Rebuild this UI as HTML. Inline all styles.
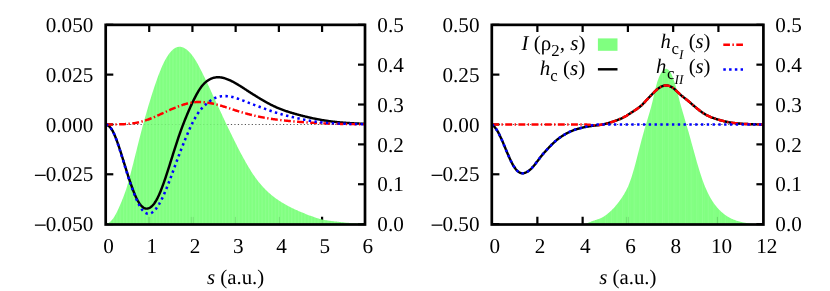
<!DOCTYPE html>
<html><head><meta charset="utf-8"><title>plot</title>
<style>html,body{margin:0;padding:0;background:#fff}svg{display:block;will-change:transform}text{text-rendering:geometricPrecision}</style>
</head><body>
<svg width="830" height="291" viewBox="0 0 830 291">
<rect width="830" height="291" fill="#fff"/>
<defs><pattern id="st" width="3.3" height="10" patternUnits="userSpaceOnUse"><rect width="3.3" height="10" fill="#81ff81"/><rect x="1" width="0.9" height="10" fill="#92ff92"/></pattern><pattern id="st2" width="5.7" height="10" patternUnits="userSpaceOnUse"><rect width="5.7" height="10" fill="#81ff81"/><rect x="1" width="0.8" height="10" fill="#8eff8e"/><rect x="3.3" width="0.5" height="10" fill="#88ff88"/></pattern></defs>
<g id="p1">
<path d="M149.22 224.1 v-7.3 M149.22 24.8 v7.3" stroke="#000" stroke-width="2.2"/>
<path d="M192.43 224.1 v-7.3 M192.43 24.8 v7.3" stroke="#000" stroke-width="2.2"/>
<path d="M235.65 224.1 v-7.3 M235.65 24.8 v7.3" stroke="#000" stroke-width="2.2"/>
<path d="M278.87 224.1 v-7.3 M278.87 24.8 v7.3" stroke="#000" stroke-width="2.2"/>
<path d="M322.08 224.1 v-7.3 M322.08 24.8 v7.3" stroke="#000" stroke-width="2.2"/>
<path d="M106 224.1 h7.3" stroke="#000" stroke-width="2.2"/>
<path d="M106 174.28 h7.3" stroke="#000" stroke-width="2.2"/>
<path d="M106 124.45 h7.3" stroke="#000" stroke-width="2.2"/>
<path d="M106 74.62 h7.3" stroke="#000" stroke-width="2.2"/>
<path d="M106 24.8 h7.3" stroke="#000" stroke-width="2.2"/>
<path d="M365.3 224.1 h-7.3" stroke="#000" stroke-width="2.2"/>
<path d="M365.3 184.24 h-7.3" stroke="#000" stroke-width="2.2"/>
<path d="M365.3 144.38 h-7.3" stroke="#000" stroke-width="2.2"/>
<path d="M365.3 104.52 h-7.3" stroke="#000" stroke-width="2.2"/>
<path d="M365.3 64.66 h-7.3" stroke="#000" stroke-width="2.2"/>
<path d="M365.3 24.8 h-7.3" stroke="#000" stroke-width="2.2"/>
<path d="M105.8 124.5 H365.3" stroke="#222" stroke-opacity="0.78" stroke-width="1" stroke-dasharray="1.2 2.275"/>
<path d="M106 224.1 L106.65 223.92 L107.3 223.61 L107.95 223.28 L108.6 222.89 L109.25 222.45 L109.9 221.95 L110.55 221.38 L111.2 220.74 L111.85 220.03 L112.5 219.25 L113.15 218.39 L113.8 217.45 L114.45 216.44 L115.1 215.35 L115.75 214.19 L116.4 212.96 L117.05 211.67 L117.7 210.32 L118.35 208.92 L119 207.48 L119.65 206 L120.3 204.5 L120.95 202.97 L121.6 201.42 L122.25 199.82 L122.9 198.2 L123.55 196.53 L124.2 194.81 L124.85 193.02 L125.5 191.14 L126.15 189.18 L126.8 187.13 L127.45 185 L128.1 182.79 L128.75 180.51 L129.4 178.17 L130.05 175.77 L130.7 173.33 L131.35 170.84 L131.99 168.32 L132.64 165.78 L133.29 163.21 L133.94 160.62 L134.59 158.03 L135.24 155.42 L135.89 152.81 L136.54 150.19 L137.19 147.58 L137.84 144.98 L138.49 142.38 L139.14 139.8 L139.79 137.24 L140.44 134.7 L141.09 132.18 L141.74 129.69 L142.39 127.24 L143.04 124.81 L143.69 122.42 L144.34 120.05 L144.99 117.72 L145.64 115.41 L146.29 113.13 L146.94 110.88 L147.59 108.66 L148.24 106.46 L148.89 104.29 L149.54 102.14 L150.19 100.02 L150.84 97.92 L151.49 95.85 L152.14 93.79 L152.79 91.76 L153.44 89.76 L154.09 87.78 L154.74 85.84 L155.39 83.92 L156.04 82.03 L156.69 80.18 L157.34 78.37 L157.99 76.59 L158.64 74.86 L159.29 73.16 L159.94 71.51 L160.59 69.9 L161.24 68.34 L161.89 66.83 L162.54 65.37 L163.19 63.96 L163.84 62.6 L164.49 61.31 L165.14 60.06 L165.79 58.88 L166.44 57.76 L167.09 56.7 L167.74 55.69 L168.39 54.74 L169.04 53.84 L169.69 53 L170.34 52.22 L170.99 51.49 L171.64 50.81 L172.29 50.18 L172.94 49.61 L173.59 49.09 L174.24 48.62 L174.89 48.2 L175.54 47.84 L176.19 47.53 L176.84 47.27 L177.49 47.07 L178.14 46.92 L178.79 46.82 L179.44 46.78 L180.09 46.79 L180.74 46.86 L181.39 46.97 L182.04 47.14 L182.69 47.35 L183.34 47.61 L183.98 47.92 L184.63 48.28 L185.28 48.67 L185.93 49.11 L186.58 49.59 L187.23 50.11 L187.88 50.67 L188.53 51.27 L189.18 51.91 L189.83 52.59 L190.48 53.31 L191.13 54.07 L191.78 54.86 L192.43 55.7 L193.08 56.58 L193.73 57.5 L194.38 58.46 L195.03 59.46 L195.68 60.5 L196.33 61.58 L196.98 62.69 L197.63 63.84 L198.28 65.02 L198.93 66.23 L199.58 67.45 L200.23 68.7 L200.88 69.96 L201.53 71.24 L202.18 72.53 L202.83 73.84 L203.48 75.16 L204.13 76.49 L204.78 77.83 L205.43 79.18 L206.08 80.54 L206.73 81.91 L207.38 83.29 L208.03 84.67 L208.68 86.06 L209.33 87.46 L209.98 88.86 L210.63 90.26 L211.28 91.67 L211.93 93.08 L212.58 94.48 L213.23 95.89 L213.88 97.3 L214.53 98.71 L215.18 100.11 L215.83 101.52 L216.48 102.93 L217.13 104.33 L217.78 105.73 L218.43 107.13 L219.08 108.53 L219.73 109.93 L220.38 111.33 L221.03 112.72 L221.68 114.11 L222.33 115.5 L222.98 116.89 L223.63 118.27 L224.28 119.66 L224.93 121.03 L225.58 122.41 L226.23 123.78 L226.88 125.15 L227.53 126.52 L228.18 127.88 L228.83 129.24 L229.48 130.59 L230.13 131.94 L230.78 133.28 L231.43 134.62 L232.08 135.96 L232.73 137.28 L233.38 138.61 L234.03 139.92 L234.68 141.23 L235.33 142.53 L235.97 143.83 L236.62 145.12 L237.27 146.4 L237.92 147.67 L238.57 148.93 L239.22 150.18 L239.87 151.43 L240.52 152.67 L241.17 153.89 L241.82 155.11 L242.47 156.32 L243.12 157.51 L243.77 158.7 L244.42 159.87 L245.07 161.04 L245.72 162.19 L246.37 163.32 L247.02 164.45 L247.67 165.56 L248.32 166.66 L248.97 167.75 L249.62 168.81 L250.27 169.87 L250.92 170.91 L251.57 171.93 L252.22 172.93 L252.87 173.92 L253.52 174.89 L254.17 175.84 L254.82 176.78 L255.47 177.69 L256.12 178.59 L256.77 179.46 L257.42 180.32 L258.07 181.16 L258.72 181.98 L259.37 182.78 L260.02 183.57 L260.67 184.34 L261.32 185.09 L261.97 185.83 L262.62 186.55 L263.27 187.25 L263.92 187.94 L264.57 188.62 L265.22 189.28 L265.87 189.93 L266.52 190.56 L267.17 191.18 L267.82 191.79 L268.47 192.38 L269.12 192.97 L269.77 193.54 L270.42 194.1 L271.07 194.65 L271.72 195.19 L272.37 195.72 L273.02 196.24 L273.67 196.74 L274.32 197.24 L274.97 197.73 L275.62 198.21 L276.27 198.69 L276.92 199.15 L277.57 199.6 L278.22 200.05 L278.87 200.49 L279.52 200.92 L280.17 201.34 L280.82 201.76 L281.47 202.16 L282.12 202.57 L282.77 202.96 L283.42 203.35 L284.07 203.73 L284.72 204.1 L285.37 204.47 L286.02 204.84 L286.67 205.2 L287.32 205.55 L287.96 205.9 L288.61 206.24 L289.26 206.58 L289.91 206.91 L290.56 207.24 L291.21 207.57 L291.86 207.89 L292.51 208.21 L293.16 208.52 L293.81 208.83 L294.46 209.14 L295.11 209.44 L295.76 209.74 L296.41 210.04 L297.06 210.33 L297.71 210.62 L298.36 210.91 L299.01 211.2 L299.66 211.48 L300.31 211.75 L300.96 212.03 L301.61 212.3 L302.26 212.57 L302.91 212.84 L303.56 213.1 L304.21 213.36 L304.86 213.62 L305.51 213.88 L306.16 214.14 L306.81 214.39 L307.46 214.64 L308.11 214.89 L308.76 215.14 L309.41 215.38 L310.06 215.63 L310.71 215.87 L311.36 216.11 L312.01 216.35 L312.66 216.58 L313.31 216.82 L313.96 217.05 L314.61 217.27 L315.26 217.49 L315.91 217.71 L316.56 217.92 L317.21 218.13 L317.86 218.33 L318.51 218.52 L319.16 218.71 L319.81 218.89 L320.46 219.07 L321.11 219.23 L321.76 219.39 L322.41 219.54 L323.06 219.68 L323.71 219.81 L324.36 219.93 L325.01 220.05 L325.66 220.16 L326.31 220.27 L326.96 220.37 L327.61 220.46 L328.26 220.55 L328.91 220.64 L329.56 220.73 L330.21 220.81 L330.86 220.89 L331.51 220.97 L332.16 221.06 L332.81 221.14 L333.46 221.22 L334.11 221.3 L334.76 221.38 L335.41 221.46 L336.06 221.54 L336.71 221.61 L337.36 221.69 L338.01 221.77 L338.66 221.85 L339.31 221.92 L339.95 222 L340.6 222.07 L341.25 222.15 L341.9 222.22 L342.55 222.29 L343.2 222.36 L343.85 222.43 L344.5 222.5 L345.15 222.57 L345.8 222.63 L346.45 222.69 L347.1 222.76 L347.75 222.82 L348.4 222.87 L349.05 222.93 L349.7 222.98 L350.35 223.04 L351 223.09 L351.65 223.13 L352.3 223.18 L352.95 223.22 L353.6 223.26 L354.25 223.3 L354.9 223.34 L355.55 223.37 L356.2 223.4 L356.85 223.43 L357.5 223.46 L358.15 223.49 L358.8 223.51 L359.45 223.54 L360.1 223.56 L360.75 223.58 L361.4 223.6 L362.05 223.62 L362.7 223.63 L363.35 223.65 L364 223.67 L364.65 223.68 L365.3 223.7 L365.3 224.1 L106 224.1 Z" fill="url(#st)"/>
<path d="M144.03 124.5 H226.23" stroke="#030" stroke-opacity="0.13" stroke-width="1" stroke-dasharray="1.2 2.275"/>
<path d="M149.2 216.9 V224.1" stroke="#020" stroke-opacity="0.12" stroke-width="2.0"/>
<path d="M191.3 216.9 V224.1" stroke="#020" stroke-opacity="0.2" stroke-width="0.6"/>
<path d="M193.3 216.9 V224.1" stroke="#020" stroke-opacity="0.2" stroke-width="0.6"/>
<path d="M235.4 216.9 V224.1" stroke="#020" stroke-opacity="0.2" stroke-width="0.7"/>
<path d="M279.4 216.9 V224.1" stroke="#020" stroke-opacity="0.2" stroke-width="0.7"/>
<path d="M322.1 216.9 V224.1" stroke="#020" stroke-opacity="0.2" stroke-width="0.7"/>
<path d="M106 124.28 L106.65 124.63 L107.3 125.01 L107.95 125.42 L108.6 125.89 L109.25 126.43 L109.9 127.06 L110.55 127.79 L111.2 128.64 L111.85 129.61 L112.5 130.7 L113.15 131.92 L113.8 133.26 L114.45 134.7 L115.1 136.24 L115.75 137.86 L116.4 139.54 L117.05 141.3 L117.7 143.11 L118.35 144.98 L119 146.89 L119.65 148.85 L120.3 150.85 L120.95 152.87 L121.6 154.93 L122.25 157 L122.9 159.09 L123.55 161.19 L124.2 163.3 L124.85 165.4 L125.5 167.5 L126.15 169.59 L126.8 171.67 L127.45 173.73 L128.1 175.76 L128.75 177.77 L129.4 179.75 L130.05 181.69 L130.7 183.6 L131.35 185.46 L131.99 187.27 L132.64 189.03 L133.29 190.74 L133.94 192.39 L134.59 193.97 L135.24 195.49 L135.89 196.93 L136.54 198.3 L137.19 199.58 L137.84 200.78 L138.49 201.9 L139.14 202.93 L139.79 203.87 L140.44 204.73 L141.09 205.5 L141.74 206.19 L142.39 206.79 L143.04 207.3 L143.69 207.73 L144.34 208.07 L144.99 208.33 L145.64 208.51 L146.29 208.61 L146.94 208.62 L147.59 208.56 L148.24 208.42 L148.89 208.2 L149.54 207.9 L150.19 207.52 L150.84 207.07 L151.49 206.54 L152.14 205.94 L152.79 205.27 L153.44 204.51 L154.09 203.69 L154.74 202.78 L155.39 201.8 L156.04 200.73 L156.69 199.59 L157.34 198.37 L157.99 197.07 L158.64 195.7 L159.29 194.26 L159.94 192.76 L160.59 191.19 L161.24 189.56 L161.89 187.88 L162.54 186.15 L163.19 184.37 L163.84 182.55 L164.49 180.69 L165.14 178.79 L165.79 176.85 L166.44 174.89 L167.09 172.9 L167.74 170.9 L168.39 168.87 L169.04 166.83 L169.69 164.77 L170.34 162.71 L170.99 160.64 L171.64 158.57 L172.29 156.51 L172.94 154.44 L173.59 152.38 L174.24 150.33 L174.89 148.29 L175.54 146.27 L176.19 144.26 L176.84 142.27 L177.49 140.3 L178.14 138.36 L178.79 136.45 L179.44 134.57 L180.09 132.72 L180.74 130.9 L181.39 129.12 L182.04 127.38 L182.69 125.67 L183.34 123.98 L183.98 122.32 L184.63 120.67 L185.28 119.04 L185.93 117.43 L186.58 115.85 L187.23 114.28 L187.88 112.74 L188.53 111.22 L189.18 109.72 L189.83 108.25 L190.48 106.79 L191.13 105.37 L191.78 103.96 L192.43 102.59 L193.08 101.24 L193.73 99.91 L194.38 98.61 L195.03 97.34 L195.68 96.09 L196.33 94.88 L196.98 93.69 L197.63 92.53 L198.28 91.42 L198.93 90.34 L199.58 89.32 L200.23 88.34 L200.88 87.42 L201.53 86.56 L202.18 85.75 L202.83 84.98 L203.48 84.26 L204.13 83.59 L204.78 82.96 L205.43 82.37 L206.08 81.83 L206.73 81.31 L207.38 80.84 L208.03 80.39 L208.68 79.98 L209.33 79.6 L209.98 79.25 L210.63 78.93 L211.28 78.64 L211.93 78.37 L212.58 78.14 L213.23 77.93 L213.88 77.75 L214.53 77.6 L215.18 77.47 L215.83 77.37 L216.48 77.3 L217.13 77.25 L217.78 77.22 L218.43 77.22 L219.08 77.24 L219.73 77.29 L220.38 77.35 L221.03 77.44 L221.68 77.55 L222.33 77.68 L222.98 77.82 L223.63 77.98 L224.28 78.16 L224.93 78.36 L225.58 78.57 L226.23 78.8 L226.88 79.03 L227.53 79.29 L228.18 79.55 L228.83 79.83 L229.48 80.11 L230.13 80.41 L230.78 80.71 L231.43 81.03 L232.08 81.35 L232.73 81.69 L233.38 82.03 L234.03 82.38 L234.68 82.74 L235.33 83.1 L235.97 83.48 L236.62 83.85 L237.27 84.24 L237.92 84.63 L238.57 85.02 L239.22 85.42 L239.87 85.83 L240.52 86.23 L241.17 86.64 L241.82 87.06 L242.47 87.48 L243.12 87.89 L243.77 88.32 L244.42 88.74 L245.07 89.16 L245.72 89.59 L246.37 90.01 L247.02 90.43 L247.67 90.86 L248.32 91.28 L248.97 91.7 L249.62 92.12 L250.27 92.54 L250.92 92.95 L251.57 93.37 L252.22 93.78 L252.87 94.19 L253.52 94.6 L254.17 95 L254.82 95.41 L255.47 95.81 L256.12 96.22 L256.77 96.62 L257.42 97.02 L258.07 97.42 L258.72 97.82 L259.37 98.21 L260.02 98.6 L260.67 98.99 L261.32 99.38 L261.97 99.77 L262.62 100.15 L263.27 100.53 L263.92 100.91 L264.57 101.28 L265.22 101.65 L265.87 102.02 L266.52 102.38 L267.17 102.74 L267.82 103.09 L268.47 103.44 L269.12 103.79 L269.77 104.13 L270.42 104.47 L271.07 104.8 L271.72 105.13 L272.37 105.45 L273.02 105.77 L273.67 106.08 L274.32 106.39 L274.97 106.69 L275.62 106.98 L276.27 107.27 L276.92 107.56 L277.57 107.84 L278.22 108.11 L278.87 108.38 L279.52 108.65 L280.17 108.91 L280.82 109.16 L281.47 109.41 L282.12 109.66 L282.77 109.9 L283.42 110.14 L284.07 110.37 L284.72 110.6 L285.37 110.83 L286.02 111.05 L286.67 111.27 L287.32 111.49 L287.96 111.7 L288.61 111.91 L289.26 112.12 L289.91 112.32 L290.56 112.52 L291.21 112.72 L291.86 112.91 L292.51 113.11 L293.16 113.3 L293.81 113.49 L294.46 113.67 L295.11 113.86 L295.76 114.04 L296.41 114.22 L297.06 114.4 L297.71 114.58 L298.36 114.75 L299.01 114.93 L299.66 115.1 L300.31 115.27 L300.96 115.44 L301.61 115.61 L302.26 115.78 L302.91 115.94 L303.56 116.11 L304.21 116.27 L304.86 116.43 L305.51 116.59 L306.16 116.75 L306.81 116.9 L307.46 117.06 L308.11 117.21 L308.76 117.36 L309.41 117.51 L310.06 117.66 L310.71 117.81 L311.36 117.95 L312.01 118.09 L312.66 118.24 L313.31 118.37 L313.96 118.51 L314.61 118.65 L315.26 118.78 L315.91 118.91 L316.56 119.04 L317.21 119.17 L317.86 119.29 L318.51 119.42 L319.16 119.54 L319.81 119.66 L320.46 119.78 L321.11 119.89 L321.76 120.01 L322.41 120.12 L323.06 120.23 L323.71 120.33 L324.36 120.44 L325.01 120.54 L325.66 120.64 L326.31 120.74 L326.96 120.83 L327.61 120.93 L328.26 121.02 L328.91 121.11 L329.56 121.2 L330.21 121.29 L330.86 121.37 L331.51 121.45 L332.16 121.53 L332.81 121.61 L333.46 121.69 L334.11 121.77 L334.76 121.84 L335.41 121.91 L336.06 121.98 L336.71 122.05 L337.36 122.11 L338.01 122.18 L338.66 122.24 L339.31 122.3 L339.95 122.36 L340.6 122.42 L341.25 122.48 L341.9 122.53 L342.55 122.58 L343.2 122.64 L343.85 122.69 L344.5 122.73 L345.15 122.78 L345.8 122.83 L346.45 122.87 L347.1 122.92 L347.75 122.96 L348.4 123 L349.05 123.04 L349.7 123.08 L350.35 123.12 L351 123.16 L351.65 123.2 L352.3 123.24 L352.95 123.27 L353.6 123.31 L354.25 123.35 L354.9 123.38 L355.55 123.42 L356.2 123.45 L356.85 123.49 L357.5 123.52 L358.15 123.55 L358.8 123.58 L359.45 123.62 L360.1 123.65 L360.75 123.68 L361.4 123.71 L362.05 123.74 L362.7 123.78 L363.35 123.81 L364 123.84 L364.65 123.87 L365.3 123.9" fill="none" stroke="#000" stroke-width="2.45" stroke-linejoin="round"/>
<path d="M106 124.41 L106.65 124.41 L107.3 124.41 L107.95 124.42 L108.6 124.42 L109.25 124.42 L109.9 124.42 L110.55 124.42 L111.2 124.42 L111.85 124.42 L112.5 124.42 L113.15 124.42 L113.8 124.42 L114.45 124.41 L115.1 124.41 L115.75 124.4 L116.4 124.39 L117.05 124.38 L117.7 124.37 L118.35 124.36 L119 124.35 L119.65 124.33 L120.3 124.31 L120.95 124.3 L121.6 124.27 L122.25 124.25 L122.9 124.22 L123.55 124.2 L124.2 124.16 L124.85 124.13 L125.5 124.09 L126.15 124.05 L126.8 124 L127.45 123.95 L128.1 123.9 L128.75 123.84 L129.4 123.78 L130.05 123.72 L130.7 123.65 L131.35 123.57 L131.99 123.49 L132.64 123.4 L133.29 123.31 L133.94 123.21 L134.59 123.11 L135.24 123 L135.89 122.89 L136.54 122.76 L137.19 122.64 L137.84 122.5 L138.49 122.36 L139.14 122.21 L139.79 122.06 L140.44 121.9 L141.09 121.73 L141.74 121.56 L142.39 121.38 L143.04 121.19 L143.69 121 L144.34 120.8 L144.99 120.6 L145.64 120.39 L146.29 120.17 L146.94 119.95 L147.59 119.72 L148.24 119.49 L148.89 119.24 L149.54 119 L150.19 118.75 L150.84 118.49 L151.49 118.23 L152.14 117.96 L152.79 117.69 L153.44 117.41 L154.09 117.13 L154.74 116.85 L155.39 116.57 L156.04 116.28 L156.69 115.99 L157.34 115.69 L157.99 115.4 L158.64 115.1 L159.29 114.8 L159.94 114.5 L160.59 114.2 L161.24 113.9 L161.89 113.6 L162.54 113.3 L163.19 113 L163.84 112.7 L164.49 112.4 L165.14 112.1 L165.79 111.8 L166.44 111.5 L167.09 111.21 L167.74 110.91 L168.39 110.62 L169.04 110.32 L169.69 110.03 L170.34 109.74 L170.99 109.46 L171.64 109.17 L172.29 108.89 L172.94 108.61 L173.59 108.33 L174.24 108.06 L174.89 107.79 L175.54 107.52 L176.19 107.26 L176.84 107 L177.49 106.75 L178.14 106.5 L178.79 106.25 L179.44 106.01 L180.09 105.77 L180.74 105.54 L181.39 105.31 L182.04 105.09 L182.69 104.88 L183.34 104.67 L183.98 104.47 L184.63 104.27 L185.28 104.08 L185.93 103.9 L186.58 103.72 L187.23 103.55 L187.88 103.39 L188.53 103.24 L189.18 103.09 L189.83 102.95 L190.48 102.83 L191.13 102.71 L191.78 102.59 L192.43 102.49 L193.08 102.4 L193.73 102.32 L194.38 102.24 L195.03 102.18 L195.68 102.12 L196.33 102.08 L196.98 102.04 L197.63 102.02 L198.28 102 L198.93 101.99 L199.58 101.99 L200.23 102 L200.88 102.02 L201.53 102.05 L202.18 102.08 L202.83 102.13 L203.48 102.18 L204.13 102.24 L204.78 102.3 L205.43 102.37 L206.08 102.45 L206.73 102.54 L207.38 102.63 L208.03 102.73 L208.68 102.83 L209.33 102.94 L209.98 103.06 L210.63 103.18 L211.28 103.3 L211.93 103.43 L212.58 103.57 L213.23 103.71 L213.88 103.86 L214.53 104.01 L215.18 104.16 L215.83 104.32 L216.48 104.49 L217.13 104.65 L217.78 104.83 L218.43 105 L219.08 105.18 L219.73 105.36 L220.38 105.55 L221.03 105.74 L221.68 105.93 L222.33 106.12 L222.98 106.32 L223.63 106.52 L224.28 106.72 L224.93 106.92 L225.58 107.13 L226.23 107.34 L226.88 107.54 L227.53 107.75 L228.18 107.97 L228.83 108.18 L229.48 108.39 L230.13 108.6 L230.78 108.82 L231.43 109.03 L232.08 109.25 L232.73 109.46 L233.38 109.67 L234.03 109.88 L234.68 110.09 L235.33 110.3 L235.97 110.51 L236.62 110.72 L237.27 110.92 L237.92 111.13 L238.57 111.33 L239.22 111.53 L239.87 111.73 L240.52 111.93 L241.17 112.12 L241.82 112.32 L242.47 112.51 L243.12 112.7 L243.77 112.89 L244.42 113.07 L245.07 113.25 L245.72 113.43 L246.37 113.61 L247.02 113.79 L247.67 113.96 L248.32 114.14 L248.97 114.3 L249.62 114.47 L250.27 114.64 L250.92 114.8 L251.57 114.96 L252.22 115.12 L252.87 115.28 L253.52 115.43 L254.17 115.59 L254.82 115.74 L255.47 115.88 L256.12 116.03 L256.77 116.17 L257.42 116.32 L258.07 116.46 L258.72 116.59 L259.37 116.73 L260.02 116.86 L260.67 116.99 L261.32 117.12 L261.97 117.25 L262.62 117.37 L263.27 117.5 L263.92 117.62 L264.57 117.74 L265.22 117.85 L265.87 117.97 L266.52 118.08 L267.17 118.19 L267.82 118.3 L268.47 118.41 L269.12 118.51 L269.77 118.62 L270.42 118.72 L271.07 118.82 L271.72 118.92 L272.37 119.02 L273.02 119.11 L273.67 119.2 L274.32 119.3 L274.97 119.39 L275.62 119.47 L276.27 119.56 L276.92 119.65 L277.57 119.73 L278.22 119.81 L278.87 119.89 L279.52 119.97 L280.17 120.05 L280.82 120.13 L281.47 120.2 L282.12 120.28 L282.77 120.35 L283.42 120.42 L284.07 120.49 L284.72 120.56 L285.37 120.63 L286.02 120.69 L286.67 120.76 L287.32 120.82 L287.96 120.89 L288.61 120.95 L289.26 121.01 L289.91 121.07 L290.56 121.13 L291.21 121.19 L291.86 121.25 L292.51 121.31 L293.16 121.37 L293.81 121.42 L294.46 121.48 L295.11 121.54 L295.76 121.59 L296.41 121.64 L297.06 121.7 L297.71 121.75 L298.36 121.8 L299.01 121.85 L299.66 121.91 L300.31 121.96 L300.96 122.01 L301.61 122.06 L302.26 122.1 L302.91 122.15 L303.56 122.2 L304.21 122.25 L304.86 122.29 L305.51 122.34 L306.16 122.38 L306.81 122.43 L307.46 122.47 L308.11 122.52 L308.76 122.56 L309.41 122.6 L310.06 122.64 L310.71 122.68 L311.36 122.72 L312.01 122.76 L312.66 122.8 L313.31 122.84 L313.96 122.88 L314.61 122.91 L315.26 122.95 L315.91 122.99 L316.56 123.02 L317.21 123.06 L317.86 123.09 L318.51 123.12 L319.16 123.16 L319.81 123.19 L320.46 123.22 L321.11 123.25 L321.76 123.28 L322.41 123.31 L323.06 123.34 L323.71 123.37 L324.36 123.39 L325.01 123.42 L325.66 123.45 L326.31 123.47 L326.96 123.5 L327.61 123.52 L328.26 123.55 L328.91 123.57 L329.56 123.59 L330.21 123.61 L330.86 123.64 L331.51 123.66 L332.16 123.68 L332.81 123.7 L333.46 123.72 L334.11 123.74 L334.76 123.76 L335.41 123.78 L336.06 123.79 L336.71 123.81 L337.36 123.83 L338.01 123.84 L338.66 123.86 L339.31 123.88 L339.95 123.89 L340.6 123.91 L341.25 123.92 L341.9 123.94 L342.55 123.95 L343.2 123.96 L343.85 123.98 L344.5 123.99 L345.15 124 L345.8 124.02 L346.45 124.03 L347.1 124.04 L347.75 124.05 L348.4 124.06 L349.05 124.07 L349.7 124.09 L350.35 124.1 L351 124.11 L351.65 124.12 L352.3 124.13 L352.95 124.14 L353.6 124.15 L354.25 124.16 L354.9 124.17 L355.55 124.17 L356.2 124.18 L356.85 124.19 L357.5 124.2 L358.15 124.21 L358.8 124.22 L359.45 124.23 L360.1 124.24 L360.75 124.24 L361.4 124.25 L362.05 124.26 L362.7 124.27 L363.35 124.28 L364 124.28 L364.65 124.29 L365.3 124.3" fill="none" stroke="#f00" stroke-width="2.45" stroke-dasharray="6.9 2.45 1.35 2.45" stroke-linejoin="round"/>
<path d="M106 124.27 L106.65 124.63 L107.3 125 L107.95 125.41 L108.6 125.87 L109.25 126.41 L109.9 127.04 L110.55 127.78 L111.2 128.63 L111.85 129.61 L112.5 130.72 L113.15 131.96 L113.8 133.32 L114.45 134.79 L115.1 136.37 L115.75 138.03 L116.4 139.77 L117.05 141.58 L117.7 143.45 L118.35 145.37 L119 147.35 L119.65 149.36 L120.3 151.41 L120.95 153.49 L121.6 155.6 L122.25 157.71 L122.9 159.84 L123.55 161.97 L124.2 164.1 L124.85 166.21 L125.5 168.31 L126.15 170.39 L126.8 172.45 L127.45 174.5 L128.1 176.51 L128.75 178.5 L129.4 180.47 L130.05 182.4 L130.7 184.3 L131.35 186.16 L131.99 187.99 L132.64 189.77 L133.29 191.52 L133.94 193.22 L134.59 194.87 L135.24 196.48 L135.89 198.03 L136.54 199.53 L137.19 200.98 L137.84 202.36 L138.49 203.68 L139.14 204.94 L139.79 206.12 L140.44 207.23 L141.09 208.25 L141.74 209.2 L142.39 210.05 L143.04 210.81 L143.69 211.48 L144.34 212.06 L144.99 212.55 L145.64 212.95 L146.29 213.26 L146.94 213.5 L147.59 213.64 L148.24 213.71 L148.89 213.7 L149.54 213.61 L150.19 213.44 L150.84 213.2 L151.49 212.88 L152.14 212.5 L152.79 212.04 L153.44 211.51 L154.09 210.91 L154.74 210.25 L155.39 209.52 L156.04 208.72 L156.69 207.87 L157.34 206.95 L157.99 205.98 L158.64 204.94 L159.29 203.85 L159.94 202.7 L160.59 201.51 L161.24 200.25 L161.89 198.95 L162.54 197.6 L163.19 196.2 L163.84 194.76 L164.49 193.28 L165.14 191.77 L165.79 190.21 L166.44 188.63 L167.09 187.01 L167.74 185.37 L168.39 183.7 L169.04 182.01 L169.69 180.3 L170.34 178.57 L170.99 176.83 L171.64 175.07 L172.29 173.31 L172.94 171.54 L173.59 169.77 L174.24 167.99 L174.89 166.22 L175.54 164.45 L176.19 162.69 L176.84 160.93 L177.49 159.18 L178.14 157.44 L178.79 155.71 L179.44 153.99 L180.09 152.28 L180.74 150.58 L181.39 148.9 L182.04 147.23 L182.69 145.57 L183.34 143.93 L183.98 142.3 L184.63 140.7 L185.28 139.11 L185.93 137.53 L186.58 135.98 L187.23 134.45 L187.88 132.94 L188.53 131.45 L189.18 129.99 L189.83 128.55 L190.48 127.13 L191.13 125.75 L191.78 124.39 L192.43 123.06 L193.08 121.77 L193.73 120.52 L194.38 119.31 L195.03 118.14 L195.68 117.01 L196.33 115.91 L196.98 114.85 L197.63 113.82 L198.28 112.84 L198.93 111.91 L199.58 111.03 L200.23 110.2 L200.88 109.42 L201.53 108.68 L202.18 107.97 L202.83 107.29 L203.48 106.64 L204.13 106 L204.78 105.37 L205.43 104.75 L206.08 104.15 L206.73 103.56 L207.38 102.99 L208.03 102.45 L208.68 101.92 L209.33 101.42 L209.98 100.94 L210.63 100.49 L211.28 100.05 L211.93 99.64 L212.58 99.25 L213.23 98.89 L213.88 98.55 L214.53 98.23 L215.18 97.93 L215.83 97.66 L216.48 97.41 L217.13 97.18 L217.78 96.98 L218.43 96.8 L219.08 96.65 L219.73 96.52 L220.38 96.4 L221.03 96.31 L221.68 96.24 L222.33 96.18 L222.98 96.14 L223.63 96.11 L224.28 96.1 L224.93 96.1 L225.58 96.11 L226.23 96.13 L226.88 96.17 L227.53 96.22 L228.18 96.28 L228.83 96.36 L229.48 96.45 L230.13 96.55 L230.78 96.67 L231.43 96.81 L232.08 96.95 L232.73 97.11 L233.38 97.27 L234.03 97.45 L234.68 97.64 L235.33 97.83 L235.97 98.03 L236.62 98.24 L237.27 98.46 L237.92 98.68 L238.57 98.91 L239.22 99.14 L239.87 99.37 L240.52 99.61 L241.17 99.85 L241.82 100.09 L242.47 100.34 L243.12 100.58 L243.77 100.83 L244.42 101.07 L245.07 101.32 L245.72 101.57 L246.37 101.82 L247.02 102.08 L247.67 102.33 L248.32 102.58 L248.97 102.83 L249.62 103.09 L250.27 103.34 L250.92 103.6 L251.57 103.85 L252.22 104.1 L252.87 104.35 L253.52 104.6 L254.17 104.85 L254.82 105.1 L255.47 105.35 L256.12 105.59 L256.77 105.83 L257.42 106.07 L258.07 106.31 L258.72 106.55 L259.37 106.78 L260.02 107.02 L260.67 107.25 L261.32 107.48 L261.97 107.72 L262.62 107.95 L263.27 108.18 L263.92 108.42 L264.57 108.65 L265.22 108.89 L265.87 109.12 L266.52 109.35 L267.17 109.59 L267.82 109.82 L268.47 110.05 L269.12 110.28 L269.77 110.51 L270.42 110.74 L271.07 110.96 L271.72 111.18 L272.37 111.41 L273.02 111.62 L273.67 111.84 L274.32 112.05 L274.97 112.27 L275.62 112.47 L276.27 112.68 L276.92 112.88 L277.57 113.09 L278.22 113.29 L278.87 113.48 L279.52 113.68 L280.17 113.87 L280.82 114.06 L281.47 114.25 L282.12 114.44 L282.77 114.62 L283.42 114.8 L284.07 114.97 L284.72 115.15 L285.37 115.32 L286.02 115.48 L286.67 115.65 L287.32 115.81 L287.96 115.97 L288.61 116.13 L289.26 116.29 L289.91 116.45 L290.56 116.6 L291.21 116.76 L291.86 116.91 L292.51 117.07 L293.16 117.22 L293.81 117.38 L294.46 117.53 L295.11 117.68 L295.76 117.83 L296.41 117.98 L297.06 118.13 L297.71 118.28 L298.36 118.43 L299.01 118.58 L299.66 118.72 L300.31 118.86 L300.96 119.01 L301.61 119.15 L302.26 119.29 L302.91 119.42 L303.56 119.56 L304.21 119.69 L304.86 119.83 L305.51 119.96 L306.16 120.08 L306.81 120.21 L307.46 120.33 L308.11 120.46 L308.76 120.57 L309.41 120.69 L310.06 120.81 L310.71 120.92 L311.36 121.03 L312.01 121.13 L312.66 121.24 L313.31 121.34 L313.96 121.44 L314.61 121.54 L315.26 121.63 L315.91 121.72 L316.56 121.81 L317.21 121.9 L317.86 121.98 L318.51 122.07 L319.16 122.15 L319.81 122.22 L320.46 122.3 L321.11 122.37 L321.76 122.44 L322.41 122.51 L323.06 122.57 L323.71 122.64 L324.36 122.7 L325.01 122.76 L325.66 122.82 L326.31 122.87 L326.96 122.92 L327.61 122.97 L328.26 123.02 L328.91 123.07 L329.56 123.12 L330.21 123.16 L330.86 123.2 L331.51 123.24 L332.16 123.28 L332.81 123.32 L333.46 123.35 L334.11 123.39 L334.76 123.42 L335.41 123.45 L336.06 123.48 L336.71 123.51 L337.36 123.54 L338.01 123.57 L338.66 123.59 L339.31 123.62 L339.95 123.64 L340.6 123.67 L341.25 123.69 L341.9 123.71 L342.55 123.73 L343.2 123.75 L343.85 123.77 L344.5 123.79 L345.15 123.81 L345.8 123.82 L346.45 123.84 L347.1 123.86 L347.75 123.87 L348.4 123.89 L349.05 123.9 L349.7 123.92 L350.35 123.93 L351 123.95 L351.65 123.96 L352.3 123.98 L352.95 123.99 L353.6 124 L354.25 124.01 L354.9 124.03 L355.55 124.04 L356.2 124.05 L356.85 124.06 L357.5 124.07 L358.15 124.09 L358.8 124.1 L359.45 124.11 L360.1 124.12 L360.75 124.13 L361.4 124.14 L362.05 124.15 L362.7 124.16 L363.35 124.17 L364 124.18 L364.65 124.19 L365.3 124.2" fill="none" stroke="#00f" stroke-width="2.5500000000000003" stroke-dasharray="2.4 3.4" stroke-linejoin="round"/>
<rect x="105.7" y="24.85" width="259.3" height="199.65" fill="none" stroke="#000" stroke-width="2.7"/>
</g>
<g id="p2">
<path d="M537.37 224.1 v-7.3 M537.37 24.8 v7.3" stroke="#000" stroke-width="2.2"/>
<path d="M582.63 224.1 v-7.3 M582.63 24.8 v7.3" stroke="#000" stroke-width="2.2"/>
<path d="M627.9 224.1 v-7.3 M627.9 24.8 v7.3" stroke="#000" stroke-width="2.2"/>
<path d="M673.17 224.1 v-7.3 M673.17 24.8 v7.3" stroke="#000" stroke-width="2.2"/>
<path d="M718.43 224.1 v-7.3 M718.43 24.8 v7.3" stroke="#000" stroke-width="2.2"/>
<path d="M492.1 224.1 h7.3" stroke="#000" stroke-width="2.2"/>
<path d="M492.1 174.28 h7.3" stroke="#000" stroke-width="2.2"/>
<path d="M492.1 124.45 h7.3" stroke="#000" stroke-width="2.2"/>
<path d="M492.1 74.62 h7.3" stroke="#000" stroke-width="2.2"/>
<path d="M492.1 24.8 h7.3" stroke="#000" stroke-width="2.2"/>
<path d="M763.7 224.1 h-7.3" stroke="#000" stroke-width="2.2"/>
<path d="M763.7 184.24 h-7.3" stroke="#000" stroke-width="2.2"/>
<path d="M763.7 144.38 h-7.3" stroke="#000" stroke-width="2.2"/>
<path d="M763.7 104.52 h-7.3" stroke="#000" stroke-width="2.2"/>
<path d="M763.7 64.66 h-7.3" stroke="#000" stroke-width="2.2"/>
<path d="M763.7 24.8 h-7.3" stroke="#000" stroke-width="2.2"/>
<path d="M491.9 124.5 H763.7" stroke="#222" stroke-opacity="0.78" stroke-width="1" stroke-dasharray="1.2 2.275"/>
<path d="M580 224.1 L580.45 224.1 L580.9 224.1 L581.35 224.09 L581.8 224.08 L582.26 224.06 L582.71 224.03 L583.16 224 L583.61 223.95 L584.06 223.9 L584.51 223.83 L584.96 223.74 L585.41 223.64 L585.86 223.53 L586.32 223.4 L586.77 223.26 L587.22 223.11 L587.67 222.95 L588.12 222.79 L588.57 222.61 L589.02 222.44 L589.47 222.26 L589.92 222.07 L590.38 221.89 L590.83 221.71 L591.28 221.53 L591.73 221.35 L592.18 221.18 L592.63 221.02 L593.08 220.86 L593.53 220.7 L593.98 220.55 L594.44 220.4 L594.89 220.26 L595.34 220.11 L595.79 219.97 L596.24 219.82 L596.69 219.67 L597.14 219.52 L597.59 219.37 L598.05 219.21 L598.5 219.05 L598.95 218.88 L599.4 218.7 L599.85 218.52 L600.3 218.33 L600.75 218.13 L601.2 217.92 L601.65 217.7 L602.11 217.47 L602.56 217.23 L603.01 216.98 L603.46 216.71 L603.91 216.44 L604.36 216.15 L604.81 215.85 L605.26 215.55 L605.71 215.23 L606.17 214.9 L606.62 214.56 L607.07 214.22 L607.52 213.86 L607.97 213.49 L608.42 213.12 L608.87 212.73 L609.32 212.34 L609.77 211.93 L610.23 211.52 L610.68 211.1 L611.13 210.66 L611.58 210.22 L612.03 209.78 L612.48 209.32 L612.93 208.85 L613.38 208.38 L613.83 207.89 L614.29 207.4 L614.74 206.9 L615.19 206.38 L615.64 205.86 L616.09 205.33 L616.54 204.79 L616.99 204.24 L617.44 203.68 L617.89 203.1 L618.35 202.52 L618.8 201.93 L619.25 201.32 L619.7 200.71 L620.15 200.08 L620.6 199.44 L621.05 198.8 L621.5 198.13 L621.95 197.46 L622.41 196.78 L622.86 196.08 L623.31 195.37 L623.76 194.64 L624.21 193.89 L624.66 193.12 L625.11 192.32 L625.56 191.5 L626.02 190.65 L626.47 189.76 L626.92 188.85 L627.37 187.9 L627.82 186.91 L628.27 185.89 L628.72 184.82 L629.17 183.71 L629.62 182.56 L630.08 181.35 L630.53 180.1 L630.98 178.79 L631.43 177.44 L631.88 176.04 L632.33 174.59 L632.78 173.1 L633.23 171.58 L633.68 170.01 L634.14 168.42 L634.59 166.8 L635.04 165.15 L635.49 163.47 L635.94 161.77 L636.39 160.06 L636.84 158.33 L637.29 156.59 L637.74 154.84 L638.2 153.08 L638.65 151.32 L639.1 149.55 L639.55 147.79 L640 146.04 L640.45 144.29 L640.9 142.55 L641.35 140.83 L641.8 139.12 L642.26 137.44 L642.71 135.77 L643.16 134.13 L643.61 132.52 L644.06 130.93 L644.51 129.37 L644.96 127.83 L645.41 126.32 L645.86 124.81 L646.32 123.32 L646.77 121.83 L647.22 120.34 L647.67 118.85 L648.12 117.35 L648.57 115.84 L649.02 114.31 L649.47 112.76 L649.92 111.18 L650.38 109.57 L650.83 107.92 L651.28 106.24 L651.73 104.5 L652.18 102.72 L652.63 100.88 L653.08 98.98 L653.53 97.03 L653.98 95.04 L654.44 93.05 L654.89 91.08 L655.34 89.15 L655.79 87.29 L656.24 85.53 L656.69 83.89 L657.14 82.36 L657.59 80.94 L658.05 79.63 L658.5 78.41 L658.95 77.28 L659.4 76.24 L659.85 75.28 L660.3 74.39 L660.75 73.57 L661.2 72.82 L661.65 72.13 L662.11 71.5 L662.56 70.93 L663.01 70.43 L663.46 69.99 L663.91 69.62 L664.36 69.32 L664.81 69.09 L665.26 68.92 L665.71 68.83 L666.17 68.81 L666.62 68.86 L667.07 68.99 L667.52 69.19 L667.97 69.47 L668.42 69.83 L668.87 70.26 L669.32 70.77 L669.77 71.36 L670.23 72.03 L670.68 72.77 L671.13 73.6 L671.58 74.51 L672.03 75.5 L672.48 76.57 L672.93 77.71 L673.38 78.92 L673.83 80.2 L674.29 81.56 L674.74 82.97 L675.19 84.46 L675.64 86 L676.09 87.61 L676.54 89.25 L676.99 90.94 L677.44 92.65 L677.89 94.37 L678.35 96.1 L678.8 97.83 L679.25 99.54 L679.7 101.23 L680.15 102.89 L680.6 104.53 L681.05 106.15 L681.5 107.75 L681.95 109.34 L682.41 110.91 L682.86 112.47 L683.31 114.02 L683.76 115.56 L684.21 117.1 L684.66 118.63 L685.11 120.17 L685.56 121.7 L686.02 123.23 L686.47 124.78 L686.92 126.32 L687.37 127.88 L687.82 129.45 L688.27 131.03 L688.72 132.62 L689.17 134.23 L689.62 135.84 L690.08 137.47 L690.53 139.1 L690.98 140.73 L691.43 142.38 L691.88 144.02 L692.33 145.67 L692.78 147.31 L693.23 148.96 L693.68 150.6 L694.14 152.24 L694.59 153.87 L695.04 155.49 L695.49 157.1 L695.94 158.71 L696.39 160.3 L696.84 161.88 L697.29 163.44 L697.74 164.99 L698.2 166.52 L698.65 168.03 L699.1 169.52 L699.55 170.99 L700 172.44 L700.45 173.86 L700.9 175.25 L701.35 176.62 L701.8 177.95 L702.26 179.26 L702.71 180.53 L703.16 181.77 L703.61 182.98 L704.06 184.16 L704.51 185.3 L704.96 186.42 L705.41 187.51 L705.86 188.56 L706.32 189.59 L706.77 190.59 L707.22 191.57 L707.67 192.52 L708.12 193.44 L708.57 194.34 L709.02 195.21 L709.47 196.06 L709.92 196.89 L710.38 197.69 L710.83 198.48 L711.28 199.24 L711.73 199.98 L712.18 200.7 L712.63 201.4 L713.08 202.08 L713.53 202.75 L713.98 203.39 L714.44 204.02 L714.89 204.63 L715.34 205.23 L715.79 205.8 L716.24 206.37 L716.69 206.91 L717.14 207.44 L717.59 207.96 L718.05 208.47 L718.5 208.96 L718.95 209.44 L719.4 209.9 L719.85 210.36 L720.3 210.8 L720.75 211.23 L721.2 211.66 L721.65 212.07 L722.11 212.47 L722.56 212.85 L723.01 213.23 L723.46 213.6 L723.91 213.96 L724.36 214.31 L724.81 214.65 L725.26 214.98 L725.71 215.3 L726.17 215.61 L726.62 215.91 L727.07 216.2 L727.52 216.49 L727.97 216.76 L728.42 217.03 L728.87 217.29 L729.32 217.54 L729.77 217.79 L730.23 218.02 L730.68 218.25 L731.13 218.47 L731.58 218.69 L732.03 218.89 L732.48 219.09 L732.93 219.29 L733.38 219.48 L733.83 219.66 L734.29 219.83 L734.74 220 L735.19 220.17 L735.64 220.33 L736.09 220.48 L736.54 220.63 L736.99 220.78 L737.44 220.92 L737.89 221.06 L738.35 221.19 L738.8 221.32 L739.25 221.44 L739.7 221.56 L740.15 221.68 L740.6 221.79 L741.05 221.9 L741.5 222.01 L741.95 222.11 L742.41 222.21 L742.86 222.31 L743.31 222.4 L743.76 222.49 L744.21 222.58 L744.66 222.66 L745.11 222.75 L745.56 222.82 L746.02 222.9 L746.47 222.97 L746.92 223.04 L747.37 223.11 L747.82 223.17 L748.27 223.23 L748.72 223.29 L749.17 223.34 L749.62 223.4 L750.08 223.45 L750.53 223.5 L750.98 223.54 L751.43 223.59 L751.88 223.63 L752.33 223.67 L752.78 223.71 L753.23 223.74 L753.68 223.78 L754.14 223.81 L754.59 223.84 L755.04 223.87 L755.49 223.89 L755.94 223.92 L756.39 223.94 L756.84 223.96 L757.29 223.98 L757.74 224 L758.2 224.02 L758.65 224.04 L759.1 224.06 L759.55 224.08 L760 224.1 L760 224.1 L580 224.1 Z" fill="url(#st2)"/>
<path d="M648.28 124.5 H686.02" stroke="#030" stroke-opacity="0.13" stroke-width="1" stroke-dasharray="1.2 2.275"/>
<path d="M626.4 216.9 V224.1" stroke="#020" stroke-opacity="0.22" stroke-width="0.6"/>
<path d="M628.4 216.9 V224.1" stroke="#020" stroke-opacity="0.22" stroke-width="0.6"/>
<path d="M717.4 216.9 V224.1" stroke="#020" stroke-opacity="0.28" stroke-width="0.7"/>
<path d="M492.1 124.42 L492.64 124.94 L493.19 125.48 L493.73 126.03 L494.28 126.62 L494.82 127.25 L495.37 127.93 L495.91 128.66 L496.45 129.46 L497 130.3 L497.54 131.21 L498.09 132.16 L498.63 133.17 L499.18 134.23 L499.72 135.34 L500.26 136.48 L500.81 137.66 L501.35 138.86 L501.9 140.09 L502.44 141.34 L502.99 142.61 L503.53 143.9 L504.07 145.19 L504.62 146.5 L505.16 147.8 L505.71 149.11 L506.25 150.42 L506.8 151.71 L507.34 153 L507.88 154.28 L508.43 155.54 L508.97 156.78 L509.52 157.99 L510.06 159.18 L510.61 160.34 L511.15 161.46 L511.69 162.55 L512.24 163.59 L512.78 164.59 L513.33 165.54 L513.87 166.44 L514.42 167.28 L514.96 168.07 L515.5 168.8 L516.05 169.47 L516.59 170.09 L517.14 170.65 L517.68 171.16 L518.23 171.6 L518.77 171.99 L519.31 172.33 L519.86 172.61 L520.4 172.84 L520.95 173.02 L521.49 173.14 L522.04 173.22 L522.58 173.24 L523.12 173.22 L523.67 173.16 L524.21 173.05 L524.76 172.9 L525.3 172.72 L525.85 172.49 L526.39 172.23 L526.93 171.94 L527.48 171.62 L528.02 171.27 L528.57 170.89 L529.11 170.48 L529.66 170.05 L530.2 169.58 L530.74 169.09 L531.29 168.57 L531.83 168.03 L532.38 167.45 L532.92 166.86 L533.47 166.23 L534.01 165.59 L534.55 164.92 L535.1 164.23 L535.64 163.53 L536.19 162.82 L536.73 162.1 L537.28 161.37 L537.82 160.65 L538.36 159.92 L538.91 159.19 L539.45 158.47 L540 157.76 L540.54 157.06 L541.09 156.38 L541.63 155.71 L542.17 155.05 L542.72 154.4 L543.26 153.77 L543.81 153.14 L544.35 152.52 L544.9 151.91 L545.44 151.31 L545.98 150.71 L546.53 150.11 L547.07 149.52 L547.62 148.94 L548.16 148.36 L548.71 147.78 L549.25 147.2 L549.79 146.63 L550.34 146.07 L550.88 145.51 L551.43 144.95 L551.97 144.41 L552.52 143.87 L553.06 143.34 L553.6 142.81 L554.15 142.3 L554.69 141.8 L555.24 141.31 L555.78 140.83 L556.33 140.37 L556.87 139.91 L557.41 139.47 L557.96 139.04 L558.5 138.62 L559.05 138.21 L559.59 137.81 L560.14 137.42 L560.68 137.04 L561.22 136.67 L561.77 136.31 L562.31 135.96 L562.86 135.61 L563.4 135.27 L563.95 134.94 L564.49 134.62 L565.03 134.3 L565.58 133.99 L566.12 133.68 L566.67 133.38 L567.21 133.09 L567.76 132.81 L568.3 132.53 L568.84 132.26 L569.39 131.99 L569.93 131.74 L570.48 131.49 L571.02 131.24 L571.57 131.01 L572.11 130.78 L572.65 130.56 L573.2 130.35 L573.74 130.15 L574.29 129.95 L574.83 129.76 L575.38 129.58 L575.92 129.4 L576.46 129.23 L577.01 129.06 L577.55 128.9 L578.1 128.75 L578.64 128.6 L579.19 128.45 L579.73 128.31 L580.27 128.17 L580.82 128.04 L581.36 127.91 L581.91 127.78 L582.45 127.65 L583 127.52 L583.54 127.4 L584.08 127.28 L584.63 127.17 L585.17 127.05 L585.72 126.94 L586.26 126.84 L586.81 126.74 L587.35 126.64 L587.89 126.54 L588.44 126.45 L588.98 126.36 L589.53 126.27 L590.07 126.19 L590.62 126.11 L591.16 126.04 L591.7 125.97 L592.25 125.9 L592.79 125.83 L593.34 125.77 L593.88 125.71 L594.43 125.64 L594.97 125.58 L595.51 125.52 L596.06 125.45 L596.6 125.39 L597.15 125.32 L597.69 125.25 L598.24 125.18 L598.78 125.1 L599.32 125.02 L599.87 124.93 L600.41 124.84 L600.96 124.75 L601.5 124.65 L602.05 124.55 L602.59 124.44 L603.13 124.33 L603.68 124.21 L604.22 124.09 L604.77 123.96 L605.31 123.83 L605.86 123.7 L606.4 123.56 L606.94 123.42 L607.49 123.27 L608.03 123.12 L608.58 122.97 L609.12 122.81 L609.67 122.65 L610.21 122.49 L610.75 122.32 L611.3 122.15 L611.84 121.98 L612.39 121.8 L612.93 121.62 L613.48 121.44 L614.02 121.26 L614.56 121.07 L615.11 120.88 L615.65 120.68 L616.2 120.49 L616.74 120.29 L617.29 120.08 L617.83 119.87 L618.37 119.66 L618.92 119.45 L619.46 119.23 L620.01 119 L620.55 118.77 L621.1 118.53 L621.64 118.28 L622.18 118.03 L622.73 117.77 L623.27 117.5 L623.82 117.22 L624.36 116.94 L624.91 116.64 L625.45 116.34 L625.99 116.02 L626.54 115.7 L627.08 115.36 L627.63 115.02 L628.17 114.68 L628.72 114.33 L629.26 113.98 L629.81 113.62 L630.35 113.27 L630.89 112.91 L631.44 112.56 L631.98 112.21 L632.53 111.87 L633.07 111.52 L633.62 111.17 L634.16 110.81 L634.7 110.46 L635.25 110.1 L635.79 109.73 L636.34 109.36 L636.88 108.98 L637.43 108.59 L637.97 108.2 L638.51 107.79 L639.06 107.37 L639.6 106.94 L640.15 106.49 L640.69 106.03 L641.24 105.56 L641.78 105.06 L642.32 104.55 L642.87 104.02 L643.41 103.48 L643.96 102.91 L644.5 102.33 L645.05 101.74 L645.59 101.15 L646.13 100.55 L646.68 99.96 L647.22 99.37 L647.77 98.79 L648.31 98.21 L648.86 97.63 L649.4 97.06 L649.94 96.49 L650.49 95.92 L651.03 95.35 L651.58 94.79 L652.12 94.22 L652.67 93.66 L653.21 93.11 L653.75 92.56 L654.3 92.02 L654.84 91.49 L655.39 90.97 L655.93 90.47 L656.48 89.99 L657.02 89.52 L657.56 89.07 L658.11 88.65 L658.65 88.24 L659.2 87.87 L659.74 87.52 L660.29 87.19 L660.83 86.89 L661.37 86.62 L661.92 86.37 L662.46 86.15 L663.01 85.96 L663.55 85.8 L664.1 85.67 L664.64 85.57 L665.18 85.5 L665.73 85.47 L666.27 85.46 L666.82 85.49 L667.36 85.55 L667.91 85.64 L668.45 85.76 L668.99 85.92 L669.54 86.1 L670.08 86.32 L670.63 86.56 L671.17 86.83 L671.72 87.13 L672.26 87.46 L672.8 87.82 L673.35 88.21 L673.89 88.62 L674.44 89.06 L674.98 89.53 L675.53 90.01 L676.07 90.51 L676.61 91.03 L677.16 91.55 L677.7 92.08 L678.25 92.61 L678.79 93.13 L679.34 93.65 L679.88 94.17 L680.42 94.66 L680.97 95.15 L681.51 95.61 L682.06 96.07 L682.6 96.51 L683.15 96.95 L683.69 97.37 L684.23 97.8 L684.78 98.22 L685.32 98.64 L685.87 99.06 L686.41 99.49 L686.96 99.92 L687.5 100.35 L688.04 100.8 L688.59 101.25 L689.13 101.71 L689.68 102.18 L690.22 102.65 L690.77 103.12 L691.31 103.6 L691.85 104.07 L692.4 104.55 L692.94 105.02 L693.49 105.49 L694.03 105.96 L694.58 106.43 L695.12 106.89 L695.66 107.35 L696.21 107.8 L696.75 108.25 L697.3 108.69 L697.84 109.13 L698.39 109.57 L698.93 109.99 L699.47 110.41 L700.02 110.82 L700.56 111.23 L701.11 111.62 L701.65 112.01 L702.2 112.39 L702.74 112.76 L703.28 113.12 L703.83 113.47 L704.37 113.81 L704.92 114.14 L705.46 114.46 L706.01 114.77 L706.55 115.07 L707.09 115.36 L707.64 115.63 L708.18 115.9 L708.73 116.16 L709.27 116.41 L709.82 116.65 L710.36 116.89 L710.9 117.12 L711.45 117.34 L711.99 117.55 L712.54 117.76 L713.08 117.96 L713.63 118.15 L714.17 118.34 L714.71 118.53 L715.26 118.71 L715.8 118.89 L716.35 119.06 L716.89 119.23 L717.44 119.4 L717.98 119.56 L718.52 119.73 L719.07 119.89 L719.61 120.04 L720.16 120.2 L720.7 120.35 L721.25 120.5 L721.79 120.64 L722.33 120.78 L722.88 120.92 L723.42 121.06 L723.97 121.19 L724.51 121.32 L725.06 121.45 L725.6 121.57 L726.14 121.69 L726.69 121.8 L727.23 121.92 L727.78 122.02 L728.32 122.13 L728.87 122.23 L729.41 122.33 L729.95 122.42 L730.5 122.51 L731.04 122.6 L731.59 122.68 L732.13 122.76 L732.68 122.84 L733.22 122.91 L733.76 122.98 L734.31 123.05 L734.85 123.11 L735.4 123.17 L735.94 123.23 L736.49 123.29 L737.03 123.34 L737.57 123.4 L738.12 123.45 L738.66 123.5 L739.21 123.54 L739.75 123.59 L740.3 123.63 L740.84 123.67 L741.38 123.71 L741.93 123.75 L742.47 123.79 L743.02 123.82 L743.56 123.86 L744.11 123.89 L744.65 123.93 L745.19 123.96 L745.74 123.99 L746.28 124.01 L746.83 124.04 L747.37 124.07 L747.92 124.09 L748.46 124.12 L749 124.14 L749.55 124.16 L750.09 124.18 L750.64 124.2 L751.18 124.22 L751.73 124.24 L752.27 124.26 L752.81 124.27 L753.36 124.29 L753.9 124.3 L754.45 124.31 L754.99 124.33 L755.54 124.34 L756.08 124.35 L756.62 124.36 L757.17 124.37 L757.71 124.38 L758.26 124.38 L758.8 124.39 L759.35 124.4 L759.89 124.41 L760.43 124.41 L760.98 124.42 L761.52 124.43 L762.07 124.43 L762.61 124.44 L763.16 124.44 L763.7 124.45" fill="none" stroke="#000" stroke-width="2.45" stroke-linejoin="round"/>
<path d="M492.1 124.45 L492.64 124.45 L493.19 124.45 L493.73 124.45 L494.28 124.45 L494.82 124.45 L495.37 124.45 L495.91 124.45 L496.45 124.45 L497 124.45 L497.54 124.45 L498.09 124.45 L498.63 124.45 L499.18 124.45 L499.72 124.45 L500.26 124.45 L500.81 124.45 L501.35 124.45 L501.9 124.45 L502.44 124.45 L502.99 124.45 L503.53 124.45 L504.07 124.45 L504.62 124.45 L505.16 124.45 L505.71 124.45 L506.25 124.45 L506.8 124.45 L507.34 124.45 L507.88 124.45 L508.43 124.45 L508.97 124.45 L509.52 124.45 L510.06 124.45 L510.61 124.45 L511.15 124.45 L511.69 124.45 L512.24 124.45 L512.78 124.45 L513.33 124.45 L513.87 124.45 L514.42 124.45 L514.96 124.45 L515.5 124.45 L516.05 124.45 L516.59 124.45 L517.14 124.45 L517.68 124.45 L518.23 124.45 L518.77 124.45 L519.31 124.45 L519.86 124.45 L520.4 124.45 L520.95 124.45 L521.49 124.45 L522.04 124.45 L522.58 124.45 L523.12 124.45 L523.67 124.45 L524.21 124.45 L524.76 124.45 L525.3 124.45 L525.85 124.45 L526.39 124.45 L526.93 124.45 L527.48 124.45 L528.02 124.45 L528.57 124.45 L529.11 124.45 L529.66 124.45 L530.2 124.45 L530.74 124.45 L531.29 124.45 L531.83 124.45 L532.38 124.45 L532.92 124.45 L533.47 124.45 L534.01 124.45 L534.55 124.45 L535.1 124.45 L535.64 124.45 L536.19 124.45 L536.73 124.45 L537.28 124.45 L537.82 124.45 L538.36 124.45 L538.91 124.45 L539.45 124.45 L540 124.45 L540.54 124.45 L541.09 124.45 L541.63 124.45 L542.17 124.45 L542.72 124.45 L543.26 124.45 L543.81 124.45 L544.35 124.45 L544.9 124.45 L545.44 124.45 L545.98 124.45 L546.53 124.45 L547.07 124.45 L547.62 124.45 L548.16 124.45 L548.71 124.45 L549.25 124.45 L549.79 124.45 L550.34 124.45 L550.88 124.45 L551.43 124.45 L551.97 124.45 L552.52 124.45 L553.06 124.45 L553.6 124.45 L554.15 124.45 L554.69 124.45 L555.24 124.45 L555.78 124.45 L556.33 124.45 L556.87 124.45 L557.41 124.45 L557.96 124.45 L558.5 124.45 L559.05 124.45 L559.59 124.45 L560.14 124.45 L560.68 124.45 L561.22 124.45 L561.77 124.45 L562.31 124.45 L562.86 124.45 L563.4 124.45 L563.95 124.45 L564.49 124.45 L565.03 124.45 L565.58 124.45 L566.12 124.45 L566.67 124.45 L567.21 124.45 L567.76 124.45 L568.3 124.45 L568.84 124.45 L569.39 124.45 L569.93 124.45 L570.48 124.45 L571.02 124.45 L571.57 124.45 L572.11 124.45 L572.65 124.45 L573.2 124.45 L573.74 124.45 L574.29 124.45 L574.83 124.45 L575.38 124.45 L575.92 124.45 L576.46 124.45 L577.01 124.45 L577.55 124.45 L578.1 124.45 L578.64 124.46 L579.19 124.46 L579.73 124.46 L580.27 124.46 L580.82 124.46 L581.36 124.47 L581.91 124.47 L582.45 124.47 L583 124.48 L583.54 124.49 L584.08 124.5 L584.63 124.51 L585.17 124.52 L585.72 124.53 L586.26 124.55 L586.81 124.57 L587.35 124.6 L587.89 124.62 L588.44 124.66 L588.98 124.7 L589.53 124.74 L590.07 124.79 L590.62 124.85 L591.16 124.91 L591.7 124.97 L592.25 125.03 L592.79 125.08 L593.34 125.14 L593.88 125.18 L594.43 125.21 L594.97 125.23 L595.51 125.24 L596.06 125.24 L596.6 125.22 L597.15 125.2 L597.69 125.16 L598.24 125.11 L598.78 125.05 L599.32 124.99 L599.87 124.91 L600.41 124.83 L600.96 124.74 L601.5 124.65 L602.05 124.55 L602.59 124.44 L603.13 124.33 L603.68 124.21 L604.22 124.09 L604.77 123.96 L605.31 123.83 L605.86 123.7 L606.4 123.56 L606.94 123.42 L607.49 123.27 L608.03 123.12 L608.58 122.97 L609.12 122.81 L609.67 122.65 L610.21 122.49 L610.75 122.32 L611.3 122.15 L611.84 121.98 L612.39 121.8 L612.93 121.62 L613.48 121.44 L614.02 121.26 L614.56 121.07 L615.11 120.88 L615.65 120.68 L616.2 120.49 L616.74 120.29 L617.29 120.08 L617.83 119.87 L618.37 119.66 L618.92 119.45 L619.46 119.23 L620.01 119 L620.55 118.77 L621.1 118.53 L621.64 118.28 L622.18 118.03 L622.73 117.77 L623.27 117.5 L623.82 117.22 L624.36 116.94 L624.91 116.64 L625.45 116.34 L625.99 116.02 L626.54 115.7 L627.08 115.36 L627.63 115.02 L628.17 114.68 L628.72 114.33 L629.26 113.98 L629.81 113.62 L630.35 113.27 L630.89 112.91 L631.44 112.56 L631.98 112.21 L632.53 111.87 L633.07 111.52 L633.62 111.17 L634.16 110.81 L634.7 110.46 L635.25 110.1 L635.79 109.73 L636.34 109.36 L636.88 108.98 L637.43 108.59 L637.97 108.2 L638.51 107.79 L639.06 107.37 L639.6 106.94 L640.15 106.49 L640.69 106.03 L641.24 105.56 L641.78 105.06 L642.32 104.55 L642.87 104.02 L643.41 103.48 L643.96 102.91 L644.5 102.33 L645.05 101.74 L645.59 101.15 L646.13 100.55 L646.68 99.96 L647.22 99.37 L647.77 98.79 L648.31 98.21 L648.86 97.63 L649.4 97.06 L649.94 96.49 L650.49 95.92 L651.03 95.35 L651.58 94.79 L652.12 94.22 L652.67 93.66 L653.21 93.11 L653.75 92.56 L654.3 92.02 L654.84 91.49 L655.39 90.97 L655.93 90.47 L656.48 89.99 L657.02 89.52 L657.56 89.07 L658.11 88.65 L658.65 88.24 L659.2 87.87 L659.74 87.52 L660.29 87.19 L660.83 86.89 L661.37 86.62 L661.92 86.37 L662.46 86.15 L663.01 85.96 L663.55 85.8 L664.1 85.67 L664.64 85.57 L665.18 85.5 L665.73 85.47 L666.27 85.46 L666.82 85.49 L667.36 85.55 L667.91 85.64 L668.45 85.76 L668.99 85.92 L669.54 86.1 L670.08 86.32 L670.63 86.56 L671.17 86.83 L671.72 87.13 L672.26 87.46 L672.8 87.82 L673.35 88.21 L673.89 88.62 L674.44 89.06 L674.98 89.53 L675.53 90.01 L676.07 90.51 L676.61 91.03 L677.16 91.55 L677.7 92.08 L678.25 92.61 L678.79 93.13 L679.34 93.65 L679.88 94.17 L680.42 94.66 L680.97 95.15 L681.51 95.61 L682.06 96.07 L682.6 96.51 L683.15 96.95 L683.69 97.37 L684.23 97.8 L684.78 98.22 L685.32 98.64 L685.87 99.06 L686.41 99.49 L686.96 99.92 L687.5 100.35 L688.04 100.8 L688.59 101.25 L689.13 101.71 L689.68 102.18 L690.22 102.65 L690.77 103.12 L691.31 103.6 L691.85 104.07 L692.4 104.55 L692.94 105.02 L693.49 105.49 L694.03 105.96 L694.58 106.43 L695.12 106.89 L695.66 107.35 L696.21 107.8 L696.75 108.25 L697.3 108.69 L697.84 109.13 L698.39 109.57 L698.93 109.99 L699.47 110.41 L700.02 110.82 L700.56 111.23 L701.11 111.62 L701.65 112.01 L702.2 112.39 L702.74 112.76 L703.28 113.12 L703.83 113.47 L704.37 113.81 L704.92 114.14 L705.46 114.46 L706.01 114.77 L706.55 115.07 L707.09 115.36 L707.64 115.63 L708.18 115.9 L708.73 116.16 L709.27 116.41 L709.82 116.65 L710.36 116.89 L710.9 117.12 L711.45 117.34 L711.99 117.55 L712.54 117.76 L713.08 117.96 L713.63 118.15 L714.17 118.34 L714.71 118.53 L715.26 118.71 L715.8 118.89 L716.35 119.06 L716.89 119.23 L717.44 119.4 L717.98 119.56 L718.52 119.73 L719.07 119.89 L719.61 120.04 L720.16 120.2 L720.7 120.35 L721.25 120.5 L721.79 120.64 L722.33 120.78 L722.88 120.92 L723.42 121.06 L723.97 121.19 L724.51 121.32 L725.06 121.45 L725.6 121.57 L726.14 121.69 L726.69 121.8 L727.23 121.92 L727.78 122.02 L728.32 122.13 L728.87 122.23 L729.41 122.33 L729.95 122.42 L730.5 122.51 L731.04 122.6 L731.59 122.68 L732.13 122.76 L732.68 122.84 L733.22 122.91 L733.76 122.98 L734.31 123.05 L734.85 123.11 L735.4 123.17 L735.94 123.23 L736.49 123.29 L737.03 123.34 L737.57 123.4 L738.12 123.45 L738.66 123.5 L739.21 123.54 L739.75 123.59 L740.3 123.63 L740.84 123.67 L741.38 123.71 L741.93 123.75 L742.47 123.79 L743.02 123.82 L743.56 123.86 L744.11 123.89 L744.65 123.93 L745.19 123.96 L745.74 123.99 L746.28 124.01 L746.83 124.04 L747.37 124.07 L747.92 124.09 L748.46 124.12 L749 124.14 L749.55 124.16 L750.09 124.18 L750.64 124.2 L751.18 124.22 L751.73 124.24 L752.27 124.26 L752.81 124.27 L753.36 124.29 L753.9 124.3 L754.45 124.31 L754.99 124.33 L755.54 124.34 L756.08 124.35 L756.62 124.36 L757.17 124.37 L757.71 124.38 L758.26 124.38 L758.8 124.39 L759.35 124.4 L759.89 124.41 L760.43 124.41 L760.98 124.42 L761.52 124.43 L762.07 124.43 L762.61 124.44 L763.16 124.44 L763.7 124.45" fill="none" stroke="#f00" stroke-width="2.45" stroke-dasharray="6.9 2.45 1.35 2.45" stroke-linejoin="round"/>
<path d="M492.1 124.42 L492.64 124.94 L493.19 125.48 L493.73 126.03 L494.28 126.62 L494.82 127.25 L495.37 127.93 L495.91 128.66 L496.45 129.46 L497 130.3 L497.54 131.21 L498.09 132.16 L498.63 133.17 L499.18 134.23 L499.72 135.34 L500.26 136.48 L500.81 137.66 L501.35 138.86 L501.9 140.09 L502.44 141.34 L502.99 142.61 L503.53 143.9 L504.07 145.19 L504.62 146.5 L505.16 147.8 L505.71 149.11 L506.25 150.42 L506.8 151.71 L507.34 153 L507.88 154.28 L508.43 155.54 L508.97 156.78 L509.52 157.99 L510.06 159.18 L510.61 160.34 L511.15 161.46 L511.69 162.55 L512.24 163.59 L512.78 164.59 L513.33 165.54 L513.87 166.44 L514.42 167.28 L514.96 168.07 L515.5 168.8 L516.05 169.47 L516.59 170.09 L517.14 170.65 L517.68 171.16 L518.23 171.6 L518.77 171.99 L519.31 172.33 L519.86 172.61 L520.4 172.84 L520.95 173.02 L521.49 173.14 L522.04 173.22 L522.58 173.24 L523.12 173.22 L523.67 173.16 L524.21 173.05 L524.76 172.9 L525.3 172.72 L525.85 172.49 L526.39 172.23 L526.93 171.94 L527.48 171.62 L528.02 171.27 L528.57 170.89 L529.11 170.48 L529.66 170.05 L530.2 169.58 L530.74 169.09 L531.29 168.57 L531.83 168.03 L532.38 167.45 L532.92 166.86 L533.47 166.23 L534.01 165.59 L534.55 164.92 L535.1 164.23 L535.64 163.53 L536.19 162.82 L536.73 162.1 L537.28 161.37 L537.82 160.65 L538.36 159.92 L538.91 159.19 L539.45 158.47 L540 157.76 L540.54 157.06 L541.09 156.38 L541.63 155.71 L542.17 155.05 L542.72 154.4 L543.26 153.77 L543.81 153.14 L544.35 152.52 L544.9 151.91 L545.44 151.31 L545.98 150.71 L546.53 150.11 L547.07 149.52 L547.62 148.94 L548.16 148.36 L548.71 147.78 L549.25 147.2 L549.79 146.63 L550.34 146.07 L550.88 145.51 L551.43 144.95 L551.97 144.41 L552.52 143.87 L553.06 143.34 L553.6 142.81 L554.15 142.3 L554.69 141.8 L555.24 141.31 L555.78 140.83 L556.33 140.37 L556.87 139.91 L557.41 139.47 L557.96 139.04 L558.5 138.62 L559.05 138.21 L559.59 137.81 L560.14 137.42 L560.68 137.04 L561.22 136.67 L561.77 136.31 L562.31 135.96 L562.86 135.61 L563.4 135.27 L563.95 134.94 L564.49 134.62 L565.03 134.3 L565.58 133.99 L566.12 133.68 L566.67 133.38 L567.21 133.09 L567.76 132.81 L568.3 132.53 L568.84 132.26 L569.39 131.99 L569.93 131.73 L570.48 131.49 L571.02 131.24 L571.57 131.01 L572.11 130.78 L572.65 130.56 L573.2 130.35 L573.74 130.15 L574.29 129.95 L574.83 129.76 L575.38 129.58 L575.92 129.4 L576.46 129.23 L577.01 129.06 L577.55 128.9 L578.1 128.75 L578.64 128.59 L579.19 128.45 L579.73 128.3 L580.27 128.16 L580.82 128.02 L581.36 127.89 L581.91 127.76 L582.45 127.62 L583 127.49 L583.54 127.37 L584.08 127.24 L584.63 127.11 L585.17 126.99 L585.72 126.86 L586.26 126.74 L586.81 126.61 L587.35 126.49 L587.89 126.36 L588.44 126.24 L588.98 126.11 L589.53 125.98 L590.07 125.85 L590.62 125.72 L591.16 125.58 L591.7 125.45 L592.25 125.32 L592.79 125.2 L593.34 125.08 L593.88 124.98 L594.43 124.88 L594.97 124.79 L595.51 124.72 L596.06 124.66 L596.6 124.61 L597.15 124.57 L597.69 124.54 L598.24 124.52 L598.78 124.5 L599.32 124.48 L599.87 124.47 L600.41 124.46 L600.96 124.46 L601.5 124.45 L602.05 124.45 L602.59 124.45 L603.13 124.45 L603.68 124.45 L604.22 124.45 L604.77 124.45 L605.31 124.45 L605.86 124.45 L606.4 124.45 L606.94 124.45 L607.49 124.45 L608.03 124.45 L608.58 124.45 L609.12 124.45 L609.67 124.45 L610.21 124.45 L610.75 124.45 L611.3 124.45 L611.84 124.45 L612.39 124.45 L612.93 124.45 L613.48 124.45 L614.02 124.45 L614.56 124.45 L615.11 124.45 L615.65 124.45 L616.2 124.45 L616.74 124.45 L617.29 124.45 L617.83 124.45 L618.37 124.45 L618.92 124.45 L619.46 124.45 L620.01 124.45 L620.55 124.45 L621.1 124.45 L621.64 124.45 L622.18 124.45 L622.73 124.45 L623.27 124.45 L623.82 124.45 L624.36 124.45 L624.91 124.45 L625.45 124.45 L625.99 124.45 L626.54 124.45 L627.08 124.45 L627.63 124.45 L628.17 124.45 L628.72 124.45 L629.26 124.45 L629.81 124.45 L630.35 124.45 L630.89 124.45 L631.44 124.45 L631.98 124.45 L632.53 124.45 L633.07 124.45 L633.62 124.45 L634.16 124.45 L634.7 124.45 L635.25 124.45 L635.79 124.45 L636.34 124.45 L636.88 124.45 L637.43 124.45 L637.97 124.45 L638.51 124.45 L639.06 124.45 L639.6 124.45 L640.15 124.45 L640.69 124.45 L641.24 124.45 L641.78 124.45 L642.32 124.45 L642.87 124.45 L643.41 124.45 L643.96 124.45 L644.5 124.45 L645.05 124.45 L645.59 124.45 L646.13 124.45 L646.68 124.45 L647.22 124.45 L647.77 124.45 L648.31 124.45 L648.86 124.45 L649.4 124.45 L649.94 124.45 L650.49 124.45 L651.03 124.45 L651.58 124.45 L652.12 124.45 L652.67 124.45 L653.21 124.45 L653.75 124.45 L654.3 124.45 L654.84 124.45 L655.39 124.45 L655.93 124.45 L656.48 124.45 L657.02 124.45 L657.56 124.45 L658.11 124.45 L658.65 124.45 L659.2 124.45 L659.74 124.45 L660.29 124.45 L660.83 124.45 L661.37 124.45 L661.92 124.45 L662.46 124.45 L663.01 124.45 L663.55 124.45 L664.1 124.45 L664.64 124.45 L665.18 124.45 L665.73 124.45 L666.27 124.45 L666.82 124.45 L667.36 124.45 L667.91 124.45 L668.45 124.45 L668.99 124.45 L669.54 124.45 L670.08 124.45 L670.63 124.45 L671.17 124.45 L671.72 124.45 L672.26 124.45 L672.8 124.45 L673.35 124.45 L673.89 124.45 L674.44 124.45 L674.98 124.45 L675.53 124.45 L676.07 124.45 L676.61 124.45 L677.16 124.45 L677.7 124.45 L678.25 124.45 L678.79 124.45 L679.34 124.45 L679.88 124.45 L680.42 124.45 L680.97 124.45 L681.51 124.45 L682.06 124.45 L682.6 124.45 L683.15 124.45 L683.69 124.45 L684.23 124.45 L684.78 124.45 L685.32 124.45 L685.87 124.45 L686.41 124.45 L686.96 124.45 L687.5 124.45 L688.04 124.45 L688.59 124.45 L689.13 124.45 L689.68 124.45 L690.22 124.45 L690.77 124.45 L691.31 124.45 L691.85 124.45 L692.4 124.45 L692.94 124.45 L693.49 124.45 L694.03 124.45 L694.58 124.45 L695.12 124.45 L695.66 124.45 L696.21 124.45 L696.75 124.45 L697.3 124.45 L697.84 124.45 L698.39 124.45 L698.93 124.45 L699.47 124.45 L700.02 124.45 L700.56 124.45 L701.11 124.45 L701.65 124.45 L702.2 124.45 L702.74 124.45 L703.28 124.45 L703.83 124.45 L704.37 124.45 L704.92 124.45 L705.46 124.45 L706.01 124.45 L706.55 124.45 L707.09 124.45 L707.64 124.45 L708.18 124.45 L708.73 124.45 L709.27 124.45 L709.82 124.45 L710.36 124.45 L710.9 124.45 L711.45 124.45 L711.99 124.45 L712.54 124.45 L713.08 124.45 L713.63 124.45 L714.17 124.45 L714.71 124.45 L715.26 124.45 L715.8 124.45 L716.35 124.45 L716.89 124.45 L717.44 124.45 L717.98 124.45 L718.52 124.45 L719.07 124.45 L719.61 124.45 L720.16 124.45 L720.7 124.45 L721.25 124.45 L721.79 124.45 L722.33 124.45 L722.88 124.45 L723.42 124.45 L723.97 124.45 L724.51 124.45 L725.06 124.45 L725.6 124.45 L726.14 124.45 L726.69 124.45 L727.23 124.45 L727.78 124.45 L728.32 124.45 L728.87 124.45 L729.41 124.45 L729.95 124.45 L730.5 124.45 L731.04 124.45 L731.59 124.45 L732.13 124.45 L732.68 124.45 L733.22 124.45 L733.76 124.45 L734.31 124.45 L734.85 124.45 L735.4 124.45 L735.94 124.45 L736.49 124.45 L737.03 124.45 L737.57 124.45 L738.12 124.45 L738.66 124.45 L739.21 124.45 L739.75 124.45 L740.3 124.45 L740.84 124.45 L741.38 124.45 L741.93 124.45 L742.47 124.45 L743.02 124.45 L743.56 124.45 L744.11 124.45 L744.65 124.45 L745.19 124.45 L745.74 124.45 L746.28 124.45 L746.83 124.45 L747.37 124.45 L747.92 124.45 L748.46 124.45 L749 124.45 L749.55 124.45 L750.09 124.45 L750.64 124.45 L751.18 124.45 L751.73 124.45 L752.27 124.45 L752.81 124.45 L753.36 124.45 L753.9 124.45 L754.45 124.45 L754.99 124.45 L755.54 124.45 L756.08 124.45 L756.62 124.45 L757.17 124.45 L757.71 124.45 L758.26 124.45 L758.8 124.45 L759.35 124.45 L759.89 124.45 L760.43 124.45 L760.98 124.45 L761.52 124.45 L762.07 124.45 L762.61 124.45 L763.16 124.45 L763.7 124.45" fill="none" stroke="#00f" stroke-width="2.5500000000000003" stroke-dasharray="2.4 3.4" stroke-linejoin="round"/>
<rect x="491.8" y="24.85" width="271.6" height="199.65" fill="none" stroke="#000" stroke-width="2.7"/>
</g>
<g font-family="'Liberation Serif', serif" font-size="21.2" fill="#000">
<text x="93.4" y="231.3" text-anchor="end">0.050</text>
<path d="M34.9 225.15 h10.8" stroke="#000" stroke-width="1.25"/>
<text x="93.4" y="181.47" text-anchor="end">0.025</text>
<path d="M34.9 175.32 h10.8" stroke="#000" stroke-width="1.25"/>
<text x="93.4" y="131.65" text-anchor="end">0.000</text>
<text x="93.4" y="81.83" text-anchor="end">0.025</text>
<text x="93.4" y="32" text-anchor="end">0.050</text>
<text x="377.3" y="231.3">0.0</text>
<text x="377.3" y="191.44">0.1</text>
<text x="377.3" y="151.58">0.2</text>
<text x="377.3" y="111.72">0.3</text>
<text x="377.3" y="71.86">0.4</text>
<text x="377.3" y="32">0.5</text>
<text x="479.5" y="231.3" text-anchor="end">0.50</text>
<path d="M431.6 225.15 h10.8" stroke="#000" stroke-width="1.25"/>
<text x="479.5" y="181.47" text-anchor="end">0.25</text>
<path d="M431.6 175.32 h10.8" stroke="#000" stroke-width="1.25"/>
<text x="479.5" y="131.65" text-anchor="end">0.00</text>
<text x="479.5" y="81.83" text-anchor="end">0.25</text>
<text x="479.5" y="32" text-anchor="end">0.50</text>
<text x="775.3" y="231.3">0.0</text>
<text x="775.3" y="191.44">0.1</text>
<text x="775.3" y="151.58">0.2</text>
<text x="775.3" y="111.72">0.3</text>
<text x="775.3" y="71.86">0.4</text>
<text x="775.3" y="32">0.5</text>
<text x="108.6" y="252.7" text-anchor="middle">0</text>
<text x="151.82" y="252.7" text-anchor="middle">1</text>
<text x="195.03" y="252.7" text-anchor="middle">2</text>
<text x="238.25" y="252.7" text-anchor="middle">3</text>
<text x="281.47" y="252.7" text-anchor="middle">4</text>
<text x="324.68" y="252.7" text-anchor="middle">5</text>
<text x="367.9" y="252.7" text-anchor="middle">6</text>
<text x="494.7" y="252.7" text-anchor="middle">0</text>
<text x="539.97" y="252.7" text-anchor="middle">2</text>
<text x="585.23" y="252.7" text-anchor="middle">4</text>
<text x="630.5" y="252.7" text-anchor="middle">6</text>
<text x="675.77" y="252.7" text-anchor="middle">8</text>
<text x="721.53" y="252.7" text-anchor="middle">10</text>
<text x="766.8" y="252.7" text-anchor="middle">12</text>
<text x="235.65" y="283.5" font-size="20.8" text-anchor="middle"><tspan font-style="italic">s</tspan> (a.u.)</text>
<text x="627.9" y="283.5" font-size="20.8" text-anchor="middle"><tspan font-style="italic">s</tspan> (a.u.)</text>
<text x="585.4" y="50.0" font-size="21" text-anchor="end"><tspan font-style="italic">I</tspan> (ρ<tspan font-size="16.8" dy="6.0">2</tspan><tspan dy="-6.0">, </tspan><tspan font-style="italic">s</tspan>)</text>
<text x="585.2" y="74.8" font-size="21" text-anchor="end"><tspan font-style="italic">h</tspan><tspan font-size="16.8" dy="6.0">c</tspan><tspan dy="-6.0"> (</tspan><tspan font-style="italic">s</tspan>)</text>
<text x="710.5" y="48.0" font-size="20.7" text-anchor="end"><tspan font-style="italic">h</tspan><tspan font-size="16.8" dx="0.7" dy="6.1">c</tspan><tspan font-size="13.4" font-style="italic" dy="5.0">I</tspan><tspan dy="-11.1"> (</tspan><tspan font-style="italic">s</tspan>)</text>
<text x="710.5" y="72.8" font-size="20.7" text-anchor="end"><tspan font-style="italic">h</tspan><tspan font-size="16.8" dx="0.7" dy="6.1">c</tspan><tspan font-size="13.4" font-style="italic" dy="5.0">II</tspan><tspan dy="-11.1"> (</tspan><tspan font-style="italic">s</tspan>)</text>
</g>
<rect x="597.9" y="38.4" width="19.6" height="12.4" fill="#80ff80"/>
<path d="M597.9 69.3 H617.5" stroke="#000" stroke-width="2.45"/>
<path d="M723.3 44.65 H743" stroke="#f00" stroke-width="2.45" stroke-dasharray="6.65 2.45 1.45 2.45"/>
<path d="M723.3 69.55 H743" stroke="#00f" stroke-width="2.5" stroke-dasharray="2.5 3.27"/>
</svg>
</body></html>
